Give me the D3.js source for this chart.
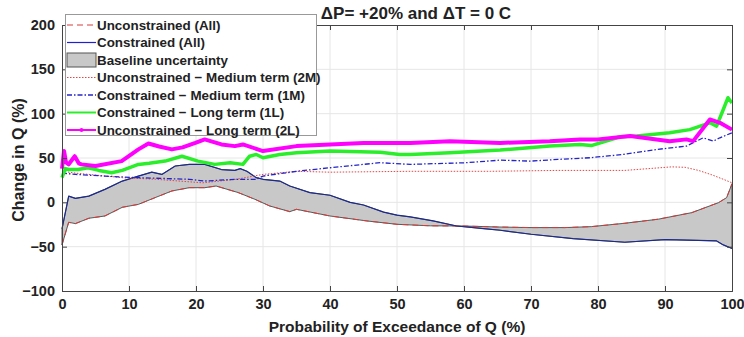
<!DOCTYPE html>
<html>
<head>
<meta charset="utf-8">
<script src="https://cdn.jsdelivr.net/npm/d3@7/dist/d3.min.js"></script>
<style>
  body { margin: 0; background: #fff; }
  text { font-family: "Liberation Sans", Arial, sans-serif; font-weight: bold; fill: #222; }
</style>
</head>
<body>
<div id="root"></div>
<script>
// tick labels
var xTicks = [0, 10, 20, 30, 40, 50, 60, 70, 80, 90, 100];
var yTicks = [-100, -50, 0, 50, 100, 150, 200];

// Unconstrained (All)
var uAllX = [0, 1, 2, 4, 6.4, 9, 11.4, 14, 16.4, 19, 21.3, 23, 26.3, 28.8, 31, 34, 35, 40, 45.5, 50, 55, 60, 65, 70, 75, 79, 84, 89, 94, 98, 99.2, 100];
var uAllY = [-48, -22.5, -24, -18, -15.4, -5.6, -2.3, 5.6, 12.8, 16.5, 16.5, 18.4, 11, 3.4, -4.1, -10.5, -7.9, -15.4, -21, -24.8, -26.5, -26.7, -27.8, -28.5, -28.5, -27.4, -23.6, -19, -11.6, -0.3, 5.3, 21];

// Constrained (All)
var cAllX = [0, 1, 2, 4, 6.4, 9, 11.4, 13.4, 14.9, 16.9, 19, 21.3, 23.8, 25.8, 26.6, 27.6, 29, 30, 32.5, 34, 37, 40, 43, 45, 48, 50, 52, 55.4, 58.9, 62.9, 65.4, 70, 76.3, 84, 90, 95, 97.7, 98.7, 100];
var cAllY = [-30, 7, 4.5, 7, 14.6, 24, 29.6, 34, 31.5, 41, 42.8, 42.8, 37, 36, 38, 35, 27.8, 26, 24, 18.4, 11, 8, 0, -3, -11, -14.5, -16.5, -21, -26.7, -29.6, -31.5, -36, -41, -45, -42, -43, -43.5, -48, -52];

// Unconstrained - Medium term (2M)
var u2mX = [0, 2, 4, 9, 14, 21, 26, 30, 35, 40, 52, 64, 74, 84, 91, 93, 95, 97, 98.7, 100];
var u2mY = [35, 33, 31.5, 27.8, 26, 22, 26, 31.5, 35, 34, 35, 35, 36, 36, 40, 39.5, 36, 31, 26, 22];

// Constrained - Medium term (1M)
var c1mX = [0, 2, 6.4, 11.4, 19, 21.3, 25.8, 29, 30, 35, 40, 47.5, 52, 60.4, 65.4, 70, 74, 78.8, 83.8, 88.8, 93.2, 95.7, 97.2, 98.2, 100];
var c1mY = [33, 31.5, 29.6, 27.8, 26, 24, 26, 26, 29.6, 35, 39, 44.7, 42.8, 44.7, 47.6, 46.5, 48.4, 50.3, 54, 59.7, 63.4, 72.8, 69, 72.8, 78.5];

// Constrained - Long term (1L)
var c1lX = [0, 0.5, 1, 2.4, 3.9, 5.5, 7.4, 9, 11.4, 13, 15.4, 17.9, 20.3, 22.8, 25.1, 27, 28, 29, 30, 32.5, 35, 40, 47.5, 50.4, 52, 57.9, 65.4, 72.8, 77.3, 79, 83.3, 85.8, 90.7, 93.7, 96.7, 97.7, 98.7, 99.4, 100];
var c1lY = [28, 38, 37, 37, 39, 36, 33.4, 36, 42.8, 44, 46.5, 52, 46.5, 42.8, 44.7, 42.8, 52, 54, 50.3, 54, 56, 57.8, 56.6, 54, 54, 56, 59, 63.4, 65.3, 64, 74, 74.7, 78.5, 82, 89.7, 86, 104.7, 118, 112];

// Unconstrained - Long term (2L)
var u2lX = [0, 0.3, 0.6, 1, 1.5, 1.9, 2.5, 2.9, 5, 8.9, 11.4, 12.9, 14.5, 16.4, 18, 19.9, 21.3, 23.8, 25.8, 27, 30, 35, 40, 45, 52, 57.9, 65.4, 72.8, 77.3, 80, 84.8, 90.7, 93.2, 94.2, 96.7, 98.2, 100];
var u2lY = [38, 58, 45, 42.8, 48, 52, 44, 42.8, 41, 46.5, 59.7, 66.4, 63, 59.7, 62, 67, 71, 65.3, 63.4, 65.3, 57.8, 63.4, 65.3, 67, 67, 69, 67, 69, 71, 71, 74.7, 69, 71, 69, 93.5, 89.7, 82];

var legendLabels = ["Unconstrained (All)", "Constrained (All)", "Baseline uncertainty",
  "Unconstrained \u2212 Medium term (2M)", "Constrained \u2212 Medium term (1M)",
  "Constrained \u2212 Long term (1L)", "Unconstrained \u2212 Long term (2L)"];

var w = 744, h = 337;
var margin = { top: 25, right: 12, bottom: 46, left: 62 };
var iw = w - margin.left - margin.right;
var ih = h - margin.top - margin.bottom;

var svg = d3.select("#root").append("svg").attr("width", w).attr("height", h);
var g = svg.append("g").attr("transform", "translate(" + margin.left + "," + margin.top + ")");

var x = d3.scaleLinear().domain([0, 100]).range([0, iw]);
var y = d3.scaleLinear().domain([-100, 200]).range([ih, 0]);

function pts(xs, ys) { return xs.map(function(v, i) { return [v, ys[i]]; }); }
var line = d3.line().x(function(d) { return x(d[0]); }).y(function(d) { return y(d[1]); });

// grid
g.append("g").selectAll("line").data(xTicks.slice(1, -1)).enter().append("line")
  .attr("x1", function(d) { return x(d); }).attr("x2", function(d) { return x(d); })
  .attr("y1", 0).attr("y2", ih).attr("stroke", "#e6e6e6");
g.append("g").selectAll("line").data(yTicks.slice(1, -1)).enter().append("line")
  .attr("y1", function(d) { return y(d); }).attr("y2", function(d) { return y(d); })
  .attr("x1", 0).attr("x2", iw).attr("stroke", "#e6e6e6");

// baseline uncertainty band
var band = pts(cAllX, cAllY).concat(pts(uAllX, uAllY).reverse());
g.append("path").attr("d", line(band) + "Z").attr("fill", "#c8c8c8").attr("stroke", "#333").attr("stroke-width", 0.8);

var series = [
  { d: pts(uAllX, uAllY), c: "#d83a3a", w: 1, dash: "6,4" },
  { d: pts(cAllX, cAllY), c: "#1c2a8c", w: 1.2, dash: null },
  { d: pts(u2mX, u2mY), c: "#e04848", w: 1, dash: "1.5,1.5" },
  { d: pts(c1mX, c1mY), c: "#2424c8", w: 1.3, dash: "5,2,1.5,2" },
  { d: pts(c1lX, c1lY), c: "#2bee2b", w: 3.5, dash: null },
  { d: pts(u2lX, u2lY), c: "#ff00ff", w: 4, dash: null }
];
series.forEach(function(s) {
  g.append("path").attr("d", line(s.d)).attr("fill", "none").attr("stroke", s.c)
    .attr("stroke-width", s.w).attr("stroke-dasharray", s.dash).attr("stroke-linejoin", "round");
});

// axes
var xAxis = d3.axisBottom(x).tickValues(xTicks).tickSize(-5).tickPadding(8);
var yAxis = d3.axisLeft(y).tickValues(yTicks).tickSize(-5).tickPadding(7);
var xa = g.append("g").attr("transform", "translate(0," + ih + ")").call(xAxis);
var ya = g.append("g").call(yAxis);
g.append("g").call(d3.axisTop(x).tickValues(xTicks).tickSize(-5).tickFormat(""));
g.append("g").attr("transform", "translate(" + iw + ",0)").call(d3.axisRight(y).tickValues(yTicks).tickSize(-5).tickFormat(""));
g.selectAll(".domain").attr("stroke", "#444");
g.selectAll(".tick line").attr("stroke", "#444");
[xa, ya].forEach(function(a) {
  a.selectAll("text").style("font-size", "14.5px").style("font-weight", "bold").attr("fill", "#222");
});

// titles
svg.append("text").attr("x", 416).attr("y", 19).attr("text-anchor", "middle").style("font-size", "17px").text("\u0394P= +20% and \u0394T = 0 C");
svg.append("text").attr("x", margin.left + iw / 2).attr("y", 332).attr("text-anchor", "middle").style("font-size", "15.5px").text("Probability of Exceedance of Q (%)");
svg.append("text").attr("transform", "translate(24," + (margin.top + ih / 2 + 2) + ") rotate(-90)").attr("text-anchor", "middle").style("font-size", "16px").text("Change in Q (%)");

// legend
var lg = svg.append("g");
lg.append("rect").attr("x", 65.5).attr("y", 14.5).attr("width", 251).attr("height", 121).attr("fill", "#fff").attr("stroke", "#999");
var legendStyles = [series[0], series[1], null, series[2], series[3], series[4], series[5]];
legendLabels.forEach(function(lab, i) {
  var yy = 25 + i * 17.5;
  var s = legendStyles[i];
  if (s) {
    lg.append("line").attr("x1", 67).attr("x2", 96).attr("y1", yy).attr("y2", yy)
      .attr("stroke", i === 1 ? "#2020d0" : s.c).attr("stroke-width", Math.min(s.w, 2))
      .attr("stroke-dasharray", s.dash);
    if (i === 6) lg.append("circle").attr("cx", 81.5).attr("cy", yy).attr("r", 2).attr("fill", s.c);
  } else {
    lg.append("rect").attr("x", 67).attr("y", yy - 7).attr("width", 29).attr("height", 14).attr("fill", "#c8c8c8").attr("stroke", "#555");
  }
  lg.append("text").attr("x", 97).attr("y", yy + 4.7).style("font-size", "13.4px").text(lab);
});
</script>
</body>
</html>
